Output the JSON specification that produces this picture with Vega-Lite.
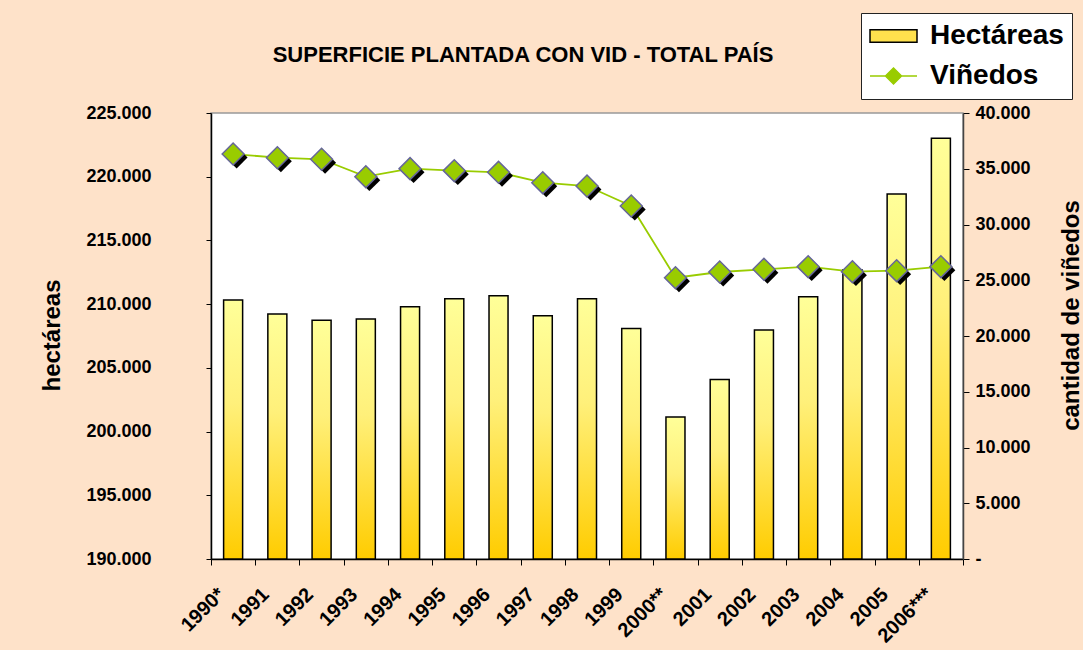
{
  "$schema": "https://vega.github.io/schema/vega-lite/v6.json",
  "width": 752,
  "height": 446,
  "autosize": {"type": "none"},
  "padding": {"left": 211, "top": 113, "right": 120, "bottom": 91},
  "background": "#FEE2C9",
  "config": {
    "font": "Liberation Sans",
    "view": {"fill": "white", "stroke": "#999999", "strokeWidth": 1.5},
    "axis": {"labelFont": "Liberation Sans", "labelFontWeight": "bold", "labelColor": "black", "titleFont": "Liberation Sans", "titleColor": "black", "grid": false}
  },
  "title": {
    "text": "SUPERFICIE PLANTADA CON VID - TOTAL PAÍS",
    "font": "Liberation Sans",
    "fontSize": 22,
    "fontWeight": "bold",
    "color": "black",
    "anchor": "middle",
    "dx": -64,
    "offset": -54
  },
  "data": {
    "values": [
      {"year": "1990*", "hectareas": 210320, "vinedos": 36320},
      {"year": "1991", "hectareas": 209230, "vinedos": 35990},
      {"year": "1992", "hectareas": 208730, "vinedos": 35850},
      {"year": "1993", "hectareas": 208830, "vinedos": 34290},
      {"year": "1994", "hectareas": 209800, "vinedos": 35010},
      {"year": "1995", "hectareas": 210430, "vinedos": 34830},
      {"year": "1996", "hectareas": 210660, "vinedos": 34680},
      {"year": "1997", "hectareas": 209090, "vinedos": 33750},
      {"year": "1998", "hectareas": 210430, "vinedos": 33450},
      {"year": "1999", "hectareas": 208090, "vinedos": 31660},
      {"year": "2000**", "hectareas": 201140, "vinedos": 25230},
      {"year": "2001", "hectareas": 204090, "vinedos": 25740},
      {"year": "2002", "hectareas": 207970, "vinedos": 25980},
      {"year": "2003", "hectareas": 210580, "vinedos": 26220},
      {"year": "2004", "hectareas": 212700, "vinedos": 25770},
      {"year": "2005", "hectareas": 218640, "vinedos": 25860},
      {"year": "2006***", "hectareas": 223010, "vinedos": 26220}
    ]
  },
  "layer": [
    {
      "mark": {
        "type": "bar",
        "width": {"band": 0.43},
        "fill": {"gradient": "linear", "x1": 0, "y1": 0, "x2": 0, "y2": 1, "stops": [{"offset": 0, "color": "#FFFF99"}, {"offset": 0.4, "color": "#FFF07A"}, {"offset": 1, "color": "#FFCC00"}]},
        "stroke": "black",
        "strokeWidth": 1.5
      },
      "encoding": {
        "x": {
          "field": "year", "type": "ordinal", "sort": null,
          "scale": {"paddingInner": 0, "paddingOuter": 0},
          "axis": {"title": null, "labelAngle": -45, "labelFontSize": 20, "labelPadding": 19, "labelOffset": -19, "tickBand": "extent", "tickSize": 6, "tickColor": "black", "domainColor": "black", "domainWidth": 1.5}
        },
        "y": {
          "field": "hectareas", "type": "quantitative",
          "scale": {"domain": [190000, 225000], "zero": false, "nice": false},
          "axis": {
            "title": "hectáreas",
            "values": [190000, 195000, 200000, 205000, 210000, 215000, 220000, 225000],
            "labelExpr": "format(datum.value/1000, 'd') + '.000'",
            "labelFontSize": 18, "labelPadding": 55, "tickSize": 5,
            "tickColor": "black", "domainColor": "black", "domainWidth": 1.5,
            "titleFontSize": 24, "titleFontWeight": "bold", "titleAngle": 270,
            "titleAlign": "center", "titleBaseline": "middle", "titleX": -159, "titleY": 222
          }
        },
        "y2": {"datum": 190000}
      }
    },
    {
      "encoding": {
        "x": {"field": "year", "type": "ordinal", "sort": null},
        "y": {
          "field": "vinedos", "type": "quantitative",
          "scale": {"domain": [0, 40000], "nice": false},
          "axis": {
            "orient": "right",
            "title": "cantidad de viñedos",
            "values": [0, 5000, 10000, 15000, 20000, 25000, 30000, 35000, 40000],
            "labelExpr": "datum.value == 0 ? '-' : format(datum.value/1000, 'd') + '.000'",
            "labelFontSize": 18, "labelPadding": 6, "tickSize": 6,
            "tickColor": "black", "domainColor": "#444444", "domainWidth": 1.5,
            "titleFontSize": 24, "titleFontWeight": "bold", "titleAngle": 270,
            "titleAlign": "center", "titleBaseline": "middle", "titleX": 108, "titleY": 202
          }
        }
      },
      "layer": [
        {"mark": {"type": "line", "stroke": "#99CC00", "strokeWidth": 1.8}},
        {"mark": {"type": "point", "shape": "diamond", "filled": true, "size": 480, "color": "black", "opacity": 1, "xOffset": 3.5, "yOffset": 3.5}},
        {
          "mark": {"type": "point", "shape": "diamond", "filled": true, "size": 480, "stroke": "#666699", "strokeWidth": 1.5, "opacity": 1},
          "encoding": {
            "color": {
              "datum": "Viñedos",
              "scale": {"domain": ["Hectáreas", "Viñedos"], "range": ["#FFE14D", "#99CC00"]},
              "legend": {
                "title": null,
                "orient": "none",
                "legendX": 650,
                "legendY": -100,
                "fillColor": "white",
                "strokeColor": "#222222",
                "padding": 8,
                "labelFont": "Liberation Sans",
                "labelFontSize": 28,
                "labelFontWeight": "bold",
                "labelColor": "black",
                "labelOffset": 12,
                "clipHeight": 30,
                "rowPadding": 10,
                "symbolSize": 2209,
                "symbolStrokeWidth": 1.5
              }
            }
          }
        },
        {
          "transform": [{"filter": "false"}],
          "mark": {"type": "point", "filled": true, "size": 480, "strokeWidth": 1.5, "opacity": 1},
          "encoding": {
            "color": {"datum": "Viñedos"},
            "shape": {
              "datum": "Viñedos",
              "scale": {"domain": ["Hectáreas", "Viñedos"], "range": ["M-1,-0.27H1V0.27H-1Z", "M-1,0H-0.34M0.34,0H1M0,-0.34L0.34,0L0,0.34L-0.34,0Z"]}
            },
            "stroke": {
              "datum": "Viñedos",
              "scale": {"domain": ["Hectáreas", "Viñedos"], "range": ["#000000", "#99CC00"]}
            }
          }
        }
      ]
    }
  ],
  "resolve": {"scale": {"y": "independent"}}
}
